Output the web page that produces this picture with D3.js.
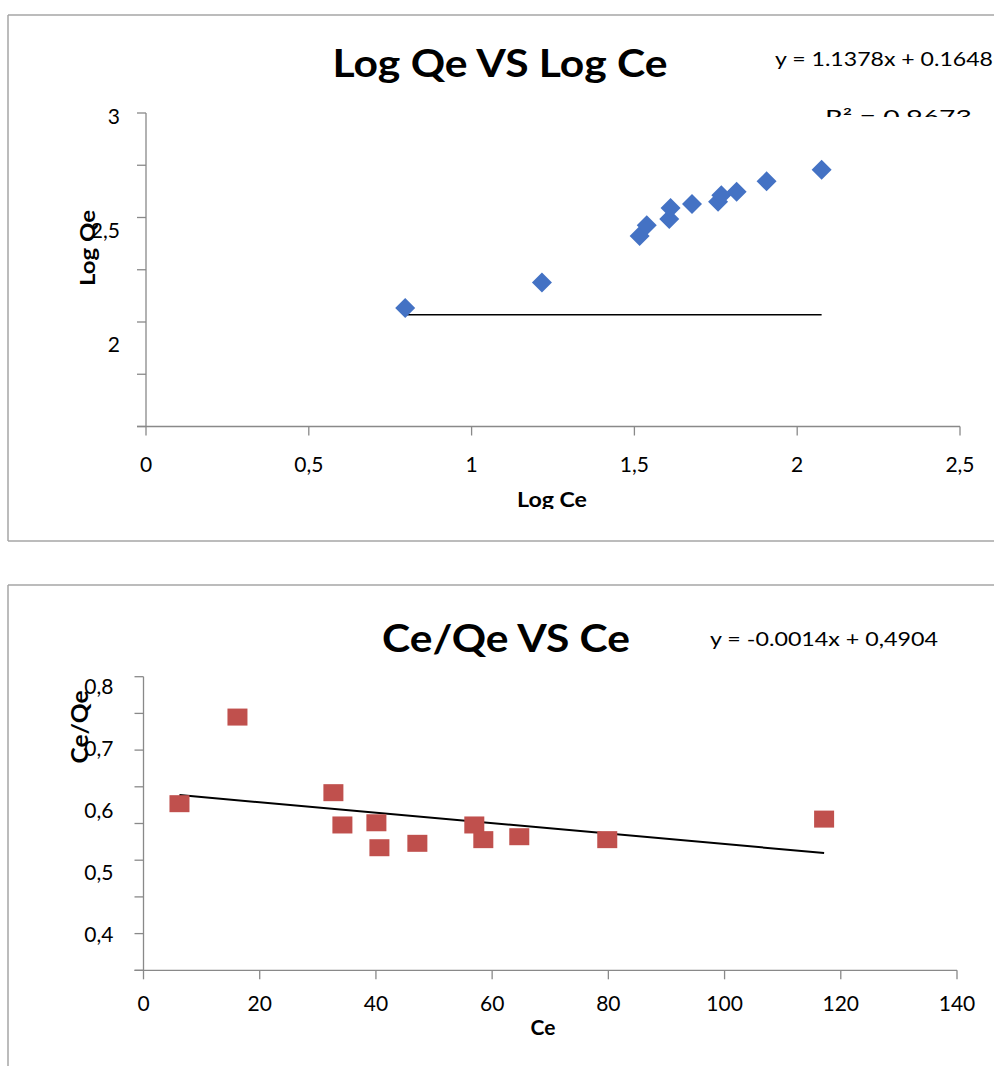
<!DOCTYPE html>
<html>
<head>
<meta charset="utf-8">
<script src="https://cdn.jsdelivr.net/npm/d3@7"></script>
<style>
    body { margin: 0; background: white; }
    text { font-family: Lato, "Open Sans", sans-serif; fill: black; }
</style>
</head>
<body>
<div id="chart"></div>
<script>
// Log Qe vs Log Ce (top chart)
const logCe = [0.796, 1.216, 1.516, 1.538, 1.607, 1.611, 1.677, 1.757, 1.767, 1.814, 1.906, 2.075]
const logQe = [2.067, 2.189, 2.411, 2.463, 2.493, 2.545, 2.564, 2.575, 2.607, 2.623, 2.673, 2.728]
const logTrendX = [0.796, 2.075]
const logTrendY = [2.035, 2.035]
const logXTicks = [0, 0.5, 1, 1.5, 2, 2.5]
const logYTicks = [1.5, 1.75, 2, 2.25, 2.5, 2.75, 3]
const logYLabels = [3, 2.5, 2]

// Ce/Qe vs Ce (bottom chart)
const ce = [6.19, 16.17, 32.68, 34.23, 40.08, 40.6, 47.13, 56.93, 58.48, 64.67, 79.81, 117.13]
const ceQe = [0.627, 0.745, 0.642, 0.598, 0.601, 0.567, 0.573, 0.598, 0.578, 0.582, 0.578, 0.606]
const ceTrendX = [6.19, 117.13]
const ceTrendY = [0.6388, 0.5598]
const ceXTicks = [0, 20, 40, 60, 80, 100, 120, 140]
const ceYTicks = [0.4, 0.45, 0.5, 0.55, 0.6, 0.65, 0.7, 0.75, 0.8]
const ceYLabels = [0.8, 0.7, 0.6, 0.5, 0.4]

const axisColour = "#898989"
const comma = (v) => String(v).replace(".", ",")

const svg = d3.select("#chart").append("svg")
    .attr("width", 994)
    .attr("height", 1066)

const defs = svg.append("defs")

// chart frames
const frames = [
    {x1: 8, y1: 15, x2: 8, y2: 541}, {x1: 8, y1: 15, x2: 994, y2: 15}, {x1: 8, y1: 541, x2: 994, y2: 541},
    {x1: 8, y1: 585, x2: 8, y2: 1066}, {x1: 8, y1: 585, x2: 994, y2: 585}
]
svg.selectAll("line.frame").data(frames).join("line")
    .attr("class", "frame")
    .attr("x1", d => d.x1).attr("y1", d => d.y1)
    .attr("x2", d => d.x2).attr("y2", d => d.y2)
    .attr("stroke", "#a6a6a6")
    .attr("stroke-width", 1.5)

function drawAxes(g, x, y, xTicks, yTicks, yLabels, labelY, xLabelY, labelGap) {
    const [x0, x1] = x.range()
    const [yb, yt] = y.range()

    g.append("line")
        .attr("x1", x0).attr("x2", x0).attr("y1", yt).attr("y2", yb)
        .attr("stroke", axisColour).attr("stroke-width", 1.3)
    g.append("line")
        .attr("x1", x0 - 9).attr("x2", x1).attr("y1", yb).attr("y2", yb)
        .attr("stroke", axisColour).attr("stroke-width", 1.3)

    g.selectAll("line.ytick").data(yTicks).join("line")
        .attr("class", "ytick")
        .attr("x1", x0 - 9).attr("x2", x0)
        .attr("y1", d => y(d)).attr("y2", d => y(d))
        .attr("stroke", axisColour).attr("stroke-width", 1.3)

    g.selectAll("line.xtick").data(xTicks).join("line")
        .attr("class", "xtick")
        .attr("x1", d => x(d)).attr("x2", d => x(d))
        .attr("y1", yb).attr("y2", yb + 9)
        .attr("stroke", axisColour).attr("stroke-width", 1.3)

    g.selectAll("text.xlabel").data(xTicks).join("text")
        .attr("class", "xlabel")
        .attr("x", d => x(d))
        .attr("y", xLabelY)
        .attr("text-anchor", "middle")
        .attr("dominant-baseline", "central")
        .style("font-size", "21px")
        .text(d => comma(d))

    // the value labels do not sit on their ticks in the original
    g.selectAll("text.ylabel").data(yLabels).join("text")
        .attr("class", "ylabel")
        .attr("x", x0 - labelGap)
        .attr("y", d => labelY(d))
        .attr("text-anchor", "end")
        .attr("dominant-baseline", "central")
        .style("font-size", "21px")
        .text(d => comma(d))
}

// ---------- top chart ----------
const topX = d3.scaleLinear().domain([0, 2.5]).range([146, 960])
const topY = d3.scaleLinear().domain([1.5, 3]).range([426.5, 113])
const topLabelY = d3.scaleLinear().domain([2, 3]).range([343, 115])
const upper = svg.append("g")

drawAxes(upper, topX, topY, logXTicks, logYTicks, logYLabels, topLabelY, 463, 26)

upper.append("line")
    .attr("x1", topX(logTrendX[0])).attr("x2", topX(logTrendX[1]))
    .attr("y1", topY(logTrendY[0])).attr("y2", topY(logTrendY[1]))
    .attr("stroke", "black").attr("stroke-width", 1.5)

upper.selectAll("path.pt").data(logCe).join("path")
    .attr("class", "pt")
    .attr("d", d3.symbol(d3.symbolSquare, 200))
    .attr("transform", (d, i) => `translate(${topX(d)},${topY(logQe[i])}) rotate(45)`)
    .attr("fill", "#4472c4")

upper.append("text")
    .attr("x", 500).attr("y", 62)
    .attr("text-anchor", "middle").attr("dominant-baseline", "central")
    .attr("textLength", 335).attr("lengthAdjust", "spacingAndGlyphs")
    .style("font-size", "38px").style("font-weight", "bold")
    .text("Log Qe VS Log Ce")

upper.append("text")
    .attr("x", 775).attr("y", 58)
    .attr("dominant-baseline", "central")
    .attr("textLength", 218).attr("lengthAdjust", "spacingAndGlyphs")
    .style("font-size", "19px")
    .text("y = 1.1378x + 0.1648")

// R² label and x title are cut off in the original
defs.append("clipPath").attr("id", "r2clip")
    .append("rect").attr("x", 800).attr("y", 90).attr("width", 194).attr("height", 27)
defs.append("clipPath").attr("id", "xtclip")
    .append("rect").attr("x", 480).attr("y", 470).attr("width", 150).attr("height", 39)

upper.append("text")
    .attr("clip-path", "url(#r2clip)")
    .attr("x", 825).attr("y", 124)
    .attr("textLength", 147).attr("lengthAdjust", "spacingAndGlyphs")
    .style("font-size", "19px")
    .text("R² = 0.9673")

upper.append("text")
    .attr("clip-path", "url(#xtclip)")
    .attr("x", 552).attr("y", 507)
    .attr("text-anchor", "middle")
    .attr("textLength", 70).attr("lengthAdjust", "spacingAndGlyphs")
    .style("font-size", "21px").style("font-weight", "bold")
    .text("Log Ce")

upper.append("text")
    .attr("transform", "translate(86,248) rotate(-90)")
    .attr("text-anchor", "middle").attr("dominant-baseline", "central")
    .attr("textLength", 76).attr("lengthAdjust", "spacingAndGlyphs")
    .style("font-size", "21px").style("font-weight", "bold")
    .text("Log Qe")

// ---------- bottom chart ----------
const botX = d3.scaleLinear().domain([0, 140]).range([143.5, 957])
const botY = d3.scaleLinear().domain([0.4, 0.8]).range([970.3, 676.7])
const botLabelY = d3.scaleLinear().domain([0.4, 0.8]).range([933, 685])
const lower = svg.append("g")

drawAxes(lower, botX, botY, ceXTicks, ceYTicks, ceYLabels, botLabelY, 1002, 30)

lower.append("line")
    .attr("x1", botX(ceTrendX[0])).attr("x2", botX(ceTrendX[1]))
    .attr("y1", botY(ceTrendY[0])).attr("y2", botY(ceTrendY[1]))
    .attr("stroke", "black").attr("stroke-width", 2)

lower.selectAll("rect.pt").data(ce).join("rect")
    .attr("class", "pt")
    .attr("x", d => botX(d) - 10)
    .attr("y", (d, i) => botY(ceQe[i]) - 8.5)
    .attr("width", 20)
    .attr("height", 17)
    .attr("fill", "#c0504d")

lower.append("text")
    .attr("x", 506).attr("y", 637)
    .attr("text-anchor", "middle").attr("dominant-baseline", "central")
    .attr("textLength", 248).attr("lengthAdjust", "spacingAndGlyphs")
    .style("font-size", "38px").style("font-weight", "bold")
    .text("Ce/Qe VS Ce")

lower.append("text")
    .attr("x", 710).attr("y", 638)
    .attr("dominant-baseline", "central")
    .attr("textLength", 228).attr("lengthAdjust", "spacingAndGlyphs")
    .style("font-size", "19px")
    .text("y = -0.0014x + 0,4904")

lower.append("text")
    .attr("x", 543).attr("y", 1026)
    .attr("text-anchor", "middle").attr("dominant-baseline", "central")
    .style("font-size", "21px").style("font-weight", "bold")
    .text("Ce")

lower.append("text")
    .attr("transform", "translate(79,727) rotate(-90)")
    .attr("text-anchor", "middle").attr("dominant-baseline", "central")
    .attr("textLength", 73).attr("lengthAdjust", "spacingAndGlyphs")
    .style("font-size", "22px").style("font-weight", "bold")
    .text("Ce/Qe")
</script>
</body>
</html>
